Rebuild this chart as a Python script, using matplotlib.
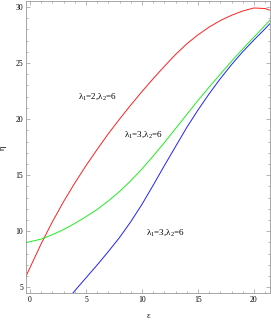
import matplotlib
matplotlib.use("Agg")
import matplotlib.pyplot as plt
from matplotlib.ticker import MultipleLocator

plt.rcParams['font.family'] = ['Liberation Serif', 'DejaVu Serif']
plt.rcParams['mathtext.fontset'] = 'custom'
plt.rcParams['mathtext.rm'] = 'Liberation Serif'
plt.rcParams['mathtext.it'] = 'Liberation Serif'

# curves
eps_red = [-0.36, 1, 2, 3, 4, 5, 6, 7, 8, 9, 10, 11, 12, 13, 14, 15, 16, 17, 18, 19, 20, 21, 21.43]
eta_red = [6.0, 8.9, 10.85, 12.65, 14.3, 15.85, 17.3, 18.7, 20.0, 21.25, 22.45, 23.6, 24.7, 25.75,
           26.7, 27.5, 28.2, 28.78, 29.25, 29.63, 29.9, 29.85, 29.7]

eps_green = [-0.36, 1, 2, 3, 4, 5, 6, 7, 8, 9, 10, 11, 12, 13, 14, 15, 16, 17, 18, 19, 20, 21, 21.43]
eta_green = [8.99, 9.3, 9.7, 10.15, 10.7, 11.3, 11.95, 12.7, 13.55, 14.5, 15.55, 16.7, 17.9, 19.15,
             20.4, 21.65, 22.85, 24.0, 25.15, 26.25, 27.3, 28.35, 28.8]

eps_blue = [3.5, 4, 5, 6, 7, 8, 9, 10, 11, 12, 13, 14, 15, 16, 17, 18, 19, 20, 21, 21.43]
eta_blue = [4.1, 4.7, 5.85, 7.0, 8.2, 9.45, 10.85, 12.4, 14.1, 15.85, 17.55, 19.25, 20.8, 22.25,
            23.6, 24.85, 26.0, 27.05, 28.05, 28.5]

labels = [r'$\mathregular{\lambda_1}$=2,$\mathregular{\lambda_2}$=6',
          r'$\mathregular{\lambda_1}$=3,$\mathregular{\lambda_2}$=6',
          r'$\mathregular{\lambda_1}$=3,$\mathregular{\lambda_2}$=6']
label_pos = [(6.0, 22.0), (10.1, 18.6), (12.05, 9.9)]

fig = plt.figure(figsize=(2.71, 3.2), dpi=100)
ax = fig.add_axes([0.096, 0.0834, 0.9, 0.912])

ax.plot(eps_red, eta_red, color='#ff2020', lw=0.7)
ax.plot(eps_green, eta_green, color='#20ee20', lw=0.7)
ax.plot(eps_blue, eta_blue, color='#2020ff', lw=0.7)

for txt, (x, y) in zip(labels, label_pos):
    ax.text(x, y, txt, fontsize=6.5, ha='center', va='center')

ax.set_xlim(-0.36, 21.43)
ax.set_ylim(4.47, 30.48)
ax.xaxis.set_major_locator(MultipleLocator(5))
ax.xaxis.set_minor_locator(MultipleLocator(1))
ax.yaxis.set_major_locator(MultipleLocator(5))
ax.yaxis.set_minor_locator(MultipleLocator(1))
ax.tick_params(which='both', direction='in', top=True, right=True, color='#999999',
               labelsize=5.5, pad=2)
ax.tick_params(which='major', length=3, width=0.5)
ax.tick_params(which='minor', length=1.6, width=0.5)
for s in ax.spines.values():
    s.set_color('#999999')
    s.set_linewidth(0.6)

ax.set_xlabel('ε', fontsize=6, labelpad=6)
ax.set_ylabel('η', fontsize=6, labelpad=6)

fig.savefig('out.png', dpi=100)
